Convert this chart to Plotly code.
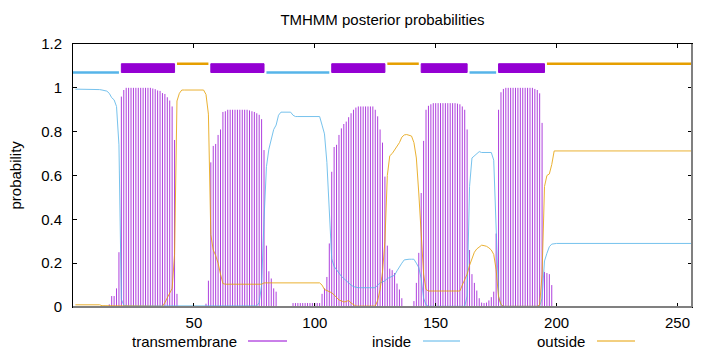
import plotly.graph_objects as go

# ---------------- data ----------------
tm_prob = ([0.0] * 11 +
           [0.003, 0.005, 0.005, 0.012, 0.05, 0.05, 0.085, 0.25] +
           [0.96, 0.99] + [1.0] * 11 +
           [0.997, 0.994, 0.988, 0.986, 0.976, 0.972, 0.957, 0.942, 0.915, 0.762] +
           [0.06] + [0.0] * 11 + [0.015, 0.12] +
           [0.66, 0.735, 0.744, 0.785, 0.81, 0.89, 0.893] + [0.9] * 9 +
           [0.897, 0.893, 0.89, 0.884, 0.877, 0.857, 0.716] +
           [0.28, 0.163, 0.13, 0.085, 0.07] + [0.0] * 6 + [0.018] * 12 +
           [0.06, 0.085, 0.137, 0.29] +
           [0.617, 0.73, 0.74, 0.785, 0.815, 0.835, 0.846, 0.866, 0.884, 0.9, 0.91] +
           [0.915] * 7 + [0.9, 0.87, 0.81, 0.75, 0.595] +
           [0.28, 0.175, 0.168, 0.155, 0.107, 0.08, 0.04] + [0.0] * 4 +
           [0.027, 0.11, 0.247] +
           [0.52, 0.758, 0.9, 0.918, 0.925] + [0.93] * 10 +
           [0.928, 0.925, 0.915, 0.9, 0.81] +
           [0.26, 0.15, 0.11, 0.075, 0.04, 0.02, 0.018, 0.02, 0.03, 0.045, 0.07, 0.335] +
           [0.9, 0.98, 0.995] + [1.0] * 12 + [0.995, 0.99, 0.975, 0.84] +
           [0.16, 0.155, 0.15, 0.1] + [0.0] * 58)

inside_prob = ([0.994] * 10 +
               [0.992, 0.99, 0.988, 0.985, 0.975, 0.955, 0.945, 0.915, 0.74] +
               [0.035, 0.008] + [0.005] * 55 +
               [0.02, 0.1, 0.4, 0.64, 0.72, 0.77, 0.81, 0.83, 0.875] + [0.889] * 5 +
               [0.875] + [0.869] * 11 + [0.83, 0.79, 0.66, 0.45] +
               [0.22, 0.185, 0.17, 0.15, 0.14, 0.13, 0.12, 0.106, 0.1, 0.093, 0.09] +
               [0.088] * 8 +
               [0.1, 0.11, 0.114, 0.12, 0.13, 0.135, 0.137, 0.145, 0.165, 0.185, 0.2, 0.215] +
               [0.218] * 4 + [0.2, 0.18, 0.13, 0.04, 0.01] + [0.003] * 16 +
               [0.05, 0.55, 0.68, 0.689, 0.7, 0.709] + [0.705] * 5 +
               [0.67, 0.35, 0.05, 0.01] + [0.003] * 16 +
               [0.04, 0.21, 0.245, 0.275, 0.287] + [0.29] * 58)

outside_prob = ([0.01] * 11 + [0.006] * 8 +
                [0.003] * 18 + [0.02, 0.04, 0.058, 0.085, 0.24] +
                [0.94, 0.975] + [0.99] * 10 + [0.97, 0.88] +
                [0.33, 0.26, 0.235, 0.2, 0.15, 0.107] + [0.104] * 16 + [0.11] +
                [0.11] * 23 + [0.1, 0.08, 0.075, 0.07] +
                [0.065, 0.055, 0.045, 0.032, 0.028, 0.023, 0.025, 0.03, 0.018, 0.01] +
                [0.004] * 9 + [0.03, 0.08, 0.16, 0.3] +
                [0.6, 0.69, 0.7, 0.716, 0.73, 0.75, 0.775, 0.785, 0.787, 0.785, 0.78,
                 0.75, 0.68, 0.52] +
                [0.33, 0.15, 0.08] + [0.073] * 14 + [0.1, 0.125, 0.15] +
                [0.19, 0.225, 0.25, 0.265, 0.275, 0.282, 0.28, 0.277, 0.27, 0.26, 0.24, 0.17] +
                [0.046, 0.012] + [0.003] * 15 + [0.01, 0.15] +
                [0.55, 0.6, 0.607, 0.65] + [0.712] * 58)

residues = list(range(1, len(tm_prob) + 1))

# predicted topology segments (top bar)
seg_start = [0, 20, 43, 57, 80, 107, 130, 144, 164, 176, 196]
seg_end = [19, 42, 56, 79, 106, 129, 143, 163, 175, 195, 256]
seg_type = ["inside", "TMhelix", "outside", "TMhelix", "inside", "TMhelix",
            "outside", "TMhelix", "inside", "TMhelix", "outside"]

x_ticks = [50, 100, 150, 200, 250]
y_ticks = [0, 0.2, 0.4, 0.6, 0.8, 1.0, 1.2]
y_tick_text = ["0", "0.2", "0.4", "0.6", "0.8", "1", "1.2"]

# ---------------- styling ----------------
C_TM = "#9400d3"
C_IN = "#56b4e9"
C_OUT = "#e69f00"
FONT = "Liberation Sans, Arial, sans-serif"
FS = 15

fig = go.Figure()

# impulses for transmembrane probability
xi, yi = [], []
for r, v in zip(residues, tm_prob):
    if v > 0:
        xi += [r, r, None]
        yi += [0, v, None]
fig.add_trace(go.Scatter(x=xi, y=yi, mode="lines",
                         line=dict(color=C_TM, width=1), opacity=0.75,
                         hoverinfo="skip", showlegend=False))

fig.add_trace(go.Scatter(x=residues, y=inside_prob, mode="lines",
                         line=dict(color=C_IN, width=1), opacity=0.8,
                         showlegend=False))
fig.add_trace(go.Scatter(x=residues, y=outside_prob, mode="lines",
                         line=dict(color=C_OUT, width=1), opacity=0.8,
                         showlegend=False))

# topology bar
for s, e, t in zip(seg_start, seg_end, seg_type):
    if t == "TMhelix":
        fig.add_trace(go.Scatter(x=[s, e, e, s, s], y=[1.07, 1.07, 1.11, 1.11, 1.07],
                                 mode="lines", fill="toself", fillcolor=C_TM,
                                 line=dict(color=C_TM, width=1), showlegend=False))
    elif t == "inside":
        fig.add_trace(go.Scatter(x=[s, e], y=[1.07, 1.07], mode="lines",
                                 line=dict(color=C_IN, width=2.5), showlegend=False))
    else:
        fig.add_trace(go.Scatter(x=[s, e], y=[1.11, 1.11], mode="lines",
                                 line=dict(color=C_OUT, width=2.5), showlegend=False))

L, R, T, B = 73, 28, 44, 45
W, H = 720, 352
pw, ph = W - L - R, H - T - B


def px2paper_x(px):
    return (px - L) / pw


def py2paper_y(py):
    return (H - B - py) / ph


shapes = [
    dict(type="line", xref="paper", yref="paper", x0=0, x1=1, y0=0, y1=0,
         line=dict(color="#808080", width=2), layer="above"),
    dict(type="line", xref="paper", yref="paper", x0=1, x1=1, y0=0, y1=1,
         line=dict(color="#808080", width=2), layer="above"),
]
annotations = []
legend_items = [("transmembrane", C_TM, 239, 248, 287),
                ("inside", C_IN, 413, 423, 460),
                ("outside", C_OUT, 587, 597, 635)]
ly = py2paper_y(341)
for label, col, tx, l0, l1 in legend_items:
    annotations.append(dict(text=label, xref="paper", yref="paper",
                            x=px2paper_x(tx), y=ly, xanchor="right", yanchor="middle",
                            showarrow=False, font=dict(family=FONT, size=FS, color="black")))
    shapes.append(dict(type="line", xref="paper", yref="paper",
                       x0=px2paper_x(l0), x1=px2paper_x(l1), y0=ly, y1=ly,
                       line=dict(color=col, width=1)))

annotations.append(dict(text="probability", xref="paper", yref="paper",
                        x=px2paper_x(15), y=py2paper_y(175.5), textangle=-90,
                        xanchor="center", yanchor="middle", showarrow=False,
                        font=dict(family=FONT, size=FS, color="black")))

fig.update_layout(
    width=W, height=H,
    margin=dict(l=L, r=R, t=T, b=B),
    paper_bgcolor="white", plot_bgcolor="white",
    font=dict(family=FONT, size=FS, color="black"),
    title=dict(text="TMHMM posterior probabilities", x=0.5, xref="paper",
               y=1 - 20 / H, yanchor="middle", xanchor="center",
               font=dict(family=FONT, size=FS, color="black")),
    shapes=shapes, annotations=annotations,
    showlegend=False,
)
fig.update_xaxes(range=[0, 256], tickvals=x_ticks, ticks="inside", ticklen=4,
                 tickcolor="black", showline=True, linecolor="black", linewidth=1,
                 mirror="ticks", showgrid=False, zeroline=False,
                 ticklabelstandoff=2)
fig.update_yaxes(range=[0, 1.2], tickvals=y_ticks, ticktext=y_tick_text,
                 ticks="inside", ticklen=4, tickcolor="black", showline=True,
                 linecolor="black", linewidth=1, mirror="ticks", showgrid=False,
                 zeroline=False, ticklabelstandoff=7)

fig.write_html("out.html")
